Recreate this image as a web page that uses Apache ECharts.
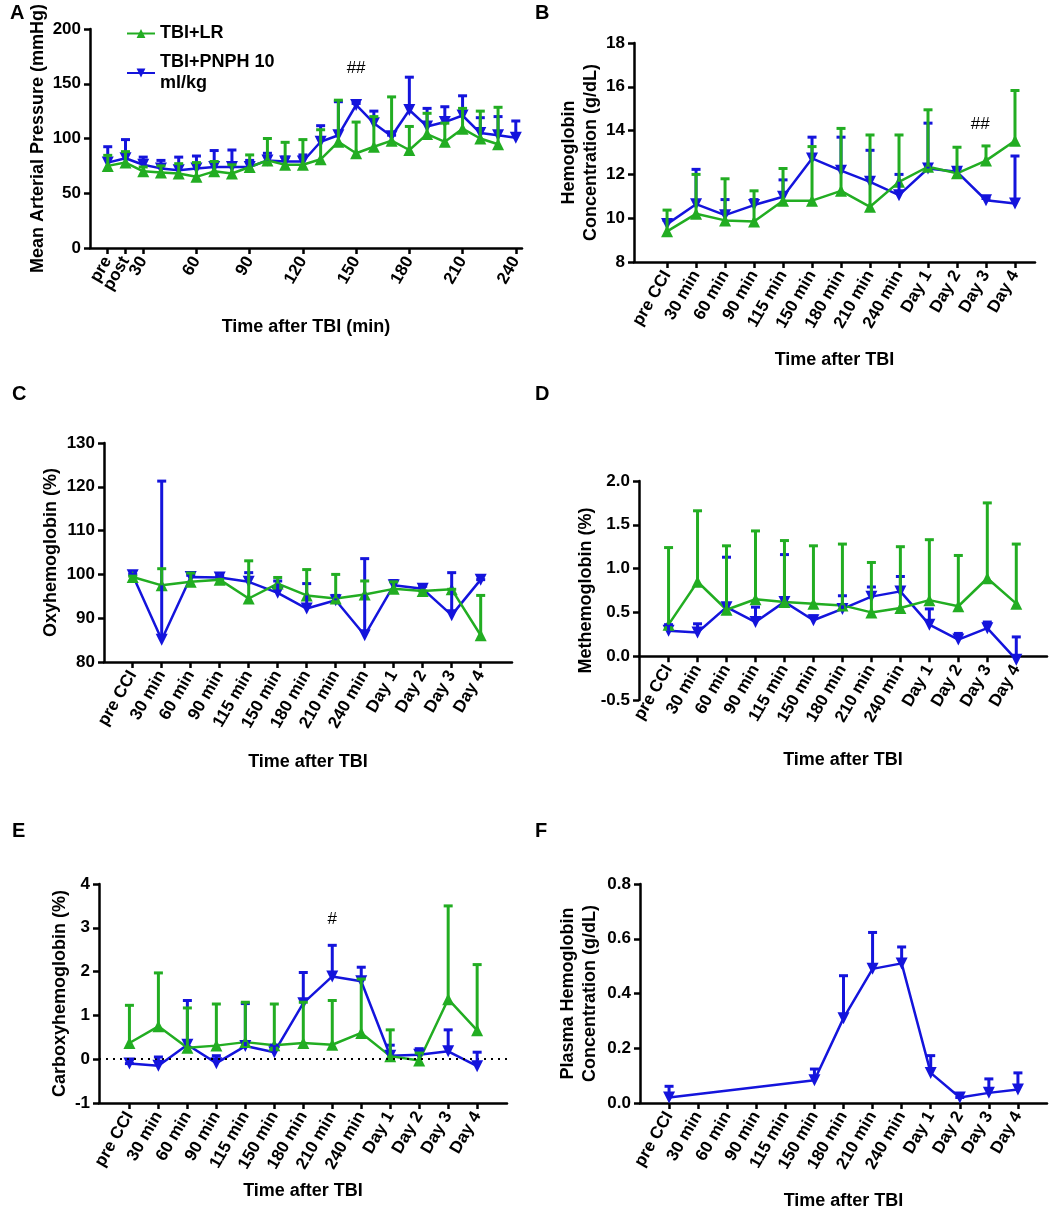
<!DOCTYPE html>
<html>
<head>
<meta charset="utf-8">
<title>TBI blood parameters</title>
<script src="https://cdn.jsdelivr.net/npm/echarts@6/dist/echarts.min.js"></script>
<style>
  html, body { margin: 0; padding: 0; background: #fff; }
  #chart { width: 1053px; height: 1210px; }
</style>
</head>
<body>
<div id="chart"></div>
<script>
// ---- data ----
var GREEN = '#22ad22';
var BLUE = '#1414dc';
var FONT = 'Liberation Sans, Arial, sans-serif';

var nameLR = 'TBI+LR';
var namePNPH = 'TBI+PNPH 10\nml/kg';

// panel A: minutes after TBI
var timeLR = [10, 20, 30, 40, 50, 60, 70, 80, 90, 100, 110, 120, 130, 140, 150, 160, 170, 180, 190, 200, 210, 220, 230];
var timePNPH = [10, 20, 30, 40, 50, 60, 70, 80, 90, 100, 110, 120, 130, 140, 150, 160, 170, 180, 190, 200, 210, 220, 230, 240];
var mapTicks = [10, 20, 30, 60, 90, 120, 150, 180, 210, 240];
var mapTickLabels = ['pre', 'post', '30', '60', '90', '120', '150', '180', '210', '240'];
var mapLR = [75, 78, 70, 69, 68, 65, 70, 68, 74, 80, 76, 76, 81, 97, 86.5, 92.5, 98, 89.5, 104, 97, 109, 100, 94.7];
var mapLRsd = [9.6, 10, 4, 6, 9, 13, 9, 8, 11, 20, 20.5, 23, 27, 38, 28.5, 27.5, 40, 21.5, 19, 17, 18.5, 25, 33.8];
var mapPNPH = [78, 82, 76, 72.7, 71, 72.7, 74, 74, 74, 80, 79, 79, 97, 103, 130.6, 114, 102, 126, 111, 115, 121, 105, 103, 100.7];
var mapPNPHsd = [14.5, 17, 7, 7.3, 12, 11.3, 15, 15.5, 6, 6.5, 4, 6, 14.7, 30.6, 1.4, 11, 1, 30, 16.5, 14, 18, 14, 17, 15.3];

// panels B-F: sampling points
var timePoints = ['pre CCI', '30 min', '60 min', '90 min', '115 min', '150 min', '180 min',
  '210 min', '240 min', 'Day 1', 'Day 2', 'Day 3', 'Day 4'];

var hbLR = [9.4, 10.2, 9.9, 9.85, 10.8, 10.8, 11.25, 10.52, 11.66, 12.35, 12.05, 12.63, 13.54];
var hbLRsd = [0.97, 1.8, 1.9, 1.4, 1.47, 2.47, 2.85, 3.28, 2.14, 2.6, 1.19, 0.67, 2.29];
var hbPNPH = [9.73, 10.64, 10.14, 10.6, 10.98, 12.73, 12.17, 11.66, 11.05, 12.27, 12.12, 10.82, 10.67];
var hbPNPHsd = [0.17, 1.59, 0.71, 0.25, 0.77, 0.97, 1.53, 1.44, 0.95, 2.07, 0.15, 0.08, 2.17];

var oxyLR = [99.4, 97.5, 98.3, 98.8, 94.5, 97.9, 95.2, 94.5, 95.4, 96.7, 96.2, 96.6, 86.1];
var oxyLRsd = [0.2, 3.8, 2.0, 0, 8.6, 1.4, 5.9, 5.5, 3.1, 1.6, 0, 0, 9.1];
var oxyPNPH = [99.8, 85.1, 99.4, 99.3, 98.3, 95.8, 92.2, 94.1, 86.1, 97.5, 96.7, 90.7, 98.8];
var oxyPNPHsd = [0.2, 36.2, 0.4, 0.3, 2.1, 2.7, 5.7, 1.1, 17.5, 1.1, 0.6, 9.7, 0];

var metLR = [0.36, 0.85, 0.53, 0.65, 0.62, 0.60, 0.58, 0.50, 0.55, 0.64, 0.57, 0.89, 0.60];
var metLRsd = [0.88, 0.81, 0.73, 0.78, 0.70, 0.66, 0.70, 0.57, 0.70, 0.69, 0.58, 0.86, 0.68];
var metPNPH = [0.29, 0.27, 0.56, 0.39, 0.62, 0.41, 0.54, 0.68, 0.74, 0.36, 0.19, 0.32, -0.04];
var metPNPHsd = [0.07, 0.10, 0.57, 0.17, 0.54, 0.05, 0.15, 0.11, 0.17, 0.18, 0.07, 0.07, 0.26];

var carbLR = [0.37, 0.75, 0.26, 0.31, 0.39, 0.32, 0.37, 0.33, 0.60, 0.07, -0.03, 1.37, 0.66];
var carbLRsd = [0.86, 1.22, 0.91, 0.95, 0.91, 0.94, 0.93, 1.01, 1.23, 0.60, 0.17, 2.13, 1.50];
var carbPNPH = [-0.10, -0.15, 0.33, -0.09, 0.30, 0.16, 1.28, 1.89, 1.78, 0.08, 0.10, 0.18, -0.16];
var carbPNPHsd = [0, 0.20, 1.01, 0.17, 0.97, 0.16, 0.70, 0.71, 0.32, 0.24, 0.14, 0.49, 0.32];

var plasmaPNPH = [0.02, null, null, null, null, 0.083, 0.31, 0.49, 0.51, 0.11, 0.02, 0.037, 0.049];
var plasmaPNPHsd = [0.041, null, null, null, null, 0.041, 0.155, 0.133, 0.06, 0.063, 0, 0.051, 0.061];

// ---- chart ----
var idx = timePoints.map(function (d, i) { return i; });

var grids = [], xAxes = [], yAxes = [], series = [];

var tickLabelStyle = { fontFamily: FONT, fontSize: 17, fontWeight: 'bold', color: '#000' };

function errorBars(k, xs, mean, sd, color) {
    var data = [];
    for (var i = 0; i < mean.length; i++) {
        if (mean[i] == null) continue;
        data.push([xs[i], mean[i], mean[i] + sd[i]]);
    }
    return {
        type: 'custom',
        xAxisIndex: k, yAxisIndex: k,
        z: 5,
        silent: true,
        data: data,
        encode: { x: 0, y: [1, 2] },
        renderItem: function (params, api) {
            var p0 = api.coord([api.value(0), api.value(1)]);
            var p1 = api.coord([api.value(0), api.value(2)]);
            var st = { stroke: color, lineWidth: 3 };
            return {
                type: 'group',
                children: [
                    { type: 'line', shape: { x1: p0[0], y1: p0[1], x2: p1[0], y2: p1[1] }, style: st },
                    { type: 'line', shape: { x1: p1[0] - 4.5, y1: p1[1], x2: p1[0] + 4.5, y2: p1[1] }, style: st }
                ]
            };
        }
    };
}

function lineSeries(k, name, xs, mean, color, down) {
    return {
        name: name,
        type: 'line',
        xAxisIndex: k, yAxisIndex: k,
        z: 3,
        data: mean.map(function (v, i) { return [xs[i], v == null ? '-' : v]; }),
        connectNulls: true,
        symbol: 'triangle',
        symbolSize: 12,
        symbolRotate: down ? 180 : 0,
        itemStyle: { color: color },
        lineStyle: { color: color, width: 2.5 },
        emphasis: { disabled: true }
    };
}

// significance marks, placed in data coordinates
function note(k, x, y, text) {
    return {
        type: 'custom',
        xAxisIndex: k, yAxisIndex: k,
        silent: true,
        z: 6,
        data: [[x, y]],
        renderItem: function (params, api) {
            var p = api.coord([api.value(0), api.value(1)]);
            return { type: 'text', x: p[0], y: p[1],
                     style: { text: text, fill: '#000', font: '17px ' + FONT, align: 'center', verticalAlign: 'middle' } };
        }
    };
}

function labelFormatter(ticks, labels) {
    return function (v) { return labels[ticks.indexOf(Math.round(v))]; };
}

function addPanel(p) {
    var k = grids.length;
    var labelTicks = p.labelTicks || p.ticks;
    grids.push({ left: p.left, top: p.top, width: p.width, height: 219, outerBoundsMode: 'none' });
    xAxes.push({
        type: 'value', gridIndex: k,
        min: p.xmin, max: p.xmax,
        offset: p.xOffset || 0,
        name: p.xName, nameLocation: 'middle', nameGap: p.xGap,
        nameTextStyle: { fontFamily: FONT, fontSize: 18, fontWeight: 'bold', color: '#000' },
        axisLine: { onZero: false, lineStyle: { color: '#000', width: 2.5 } },
        axisTick: { customValues: p.ticks, length: 6, lineStyle: { color: '#000', width: 2.5 } },
        axisLabel: Object.assign({
            customValues: labelTicks, rotate: 60, margin: 10, hideOverlap: false,
            showMinLabel: true, showMaxLabel: true,
            formatter: labelFormatter(p.ticks, p.tickLabels)
        }, tickLabelStyle),
        splitLine: { show: false }
    });
    yAxes.push({
        type: 'value', gridIndex: k,
        min: p.ymin, max: p.ymax, interval: p.yStep,
        name: p.yName, nameLocation: 'middle', nameGap: p.yGap,
        nameTextStyle: { fontFamily: FONT, fontSize: 18, fontWeight: 'bold', color: '#000', lineHeight: 22 },
        axisLine: { show: true, onZero: false, lineStyle: { color: '#000', width: 2.5 } },
        axisTick: { show: true, length: 6, lineStyle: { color: '#000', width: 2.5 } },
        axisLabel: Object.assign({
            margin: 9, showMinLabel: true, showMaxLabel: true,
            formatter: function (v) { return p.yDigits ? v.toFixed(p.yDigits) : String(v); }
        }, tickLabelStyle),
        splitLine: { show: false }
    });
    return k;
}

// A  ("post" sits so close to "pre" that it gets its own label-only axis below)
var kA = addPanel({ left: 90, top: 29, width: 432, xmin: 0, xmax: 243.5,
    ticks: mapTicks, tickLabels: mapTickLabels,
    labelTicks: mapTicks.filter(function (t, i) { return i !== 1; }),
    xName: 'Time after TBI (min)', xGap: 70,
    ymin: 0, ymax: 200, yStep: 50, yName: 'Mean Arterial Pressure (mmHg)', yGap: 40 });
series.push(lineSeries(kA, namePNPH, timePNPH, mapPNPH, BLUE, true));
series.push(lineSeries(kA, nameLR, timeLR, mapLR, GREEN, false));
series.push(errorBars(kA, timePNPH, mapPNPH, mapPNPHsd, BLUE));
series.push(errorBars(kA, timeLR, mapLR, mapLRsd, GREEN));
series.push(note(kA, 150, 164, '##'));

var common = { ticks: idx, tickLabels: timePoints, xName: 'Time after TBI' };
function panelCfg(extra) {
    var o = {};
    for (var a in common) o[a] = common[a];
    for (var b in extra) o[b] = extra[b];
    return o;
}

// B
var kB = addPanel(panelCfg({ left: 634, top: 43, width: 401, xmin: -1.14, xmax: 12.69, xGap: 89,
    ymin: 8, ymax: 18, yStep: 2, yName: 'Hemoglobin\nConcentration (g/dL)', yGap: 32 }));
series.push(lineSeries(kB, namePNPH, idx, hbPNPH, BLUE, true));
series.push(lineSeries(kB, nameLR, idx, hbLR, GREEN, false));
series.push(errorBars(kB, idx, hbPNPH, hbPNPHsd, BLUE));
series.push(errorBars(kB, idx, hbLR, hbLRsd, GREEN));
series.push(note(kB, 10.8, 14.3, '##'));

// C
var kC = addPanel(panelCfg({ left: 104, top: 443, width: 408, xmin: -0.99, xmax: 13.08, xGap: 91,
    ymin: 80, ymax: 130, yStep: 10, yName: 'Oxyhemoglobin (%)', yGap: 42 }));
series.push(lineSeries(kC, namePNPH, idx, oxyPNPH, BLUE, true));
series.push(lineSeries(kC, nameLR, idx, oxyLR, GREEN, false));
series.push(errorBars(kC, idx, oxyPNPH, oxyPNPHsd, BLUE));
series.push(errorBars(kC, idx, oxyLR, oxyLRsd, GREEN));

// D  (x axis crosses at y = 0: 0.5 of 2.5 units above the bottom of a 219px grid)
var kD = addPanel(panelCfg({ left: 639, top: 481, width: 408, xmin: -1.02, xmax: 13.06, xGap: 95,
    xOffset: -219 * 0.5 / 2.5,
    ymin: -0.5, ymax: 2, yStep: 0.5, yDigits: 1, yName: 'Methemoglobin (%)', yGap: 41 }));
series.push(lineSeries(kD, namePNPH, idx, metPNPH, BLUE, true));
series.push(lineSeries(kD, nameLR, idx, metLR, GREEN, false));
series.push(errorBars(kD, idx, metPNPH, metPNPHsd, BLUE));
series.push(errorBars(kD, idx, metLR, metLRsd, GREEN));

// E
var kE = addPanel(panelCfg({ left: 99, top: 884, width: 408, xmin: -1.05, xmax: 13.03, xGap: 79,
    ymin: -1, ymax: 4, yStep: 1, yName: 'Carboxyhemoglobin (%)', yGap: 27 }));
var eBlue = lineSeries(kE, namePNPH, idx, carbPNPH, BLUE, true);
eBlue.markLine = {
    silent: true, symbol: 'none', label: { show: false },
    lineStyle: { color: '#000', type: [2, 5], width: 2 },
    data: [{ yAxis: 0 }]
};
series.push(eBlue);
series.push(lineSeries(kE, nameLR, idx, carbLR, GREEN, false));
series.push(errorBars(kE, idx, carbPNPH, carbPNPHsd, BLUE));
series.push(errorBars(kE, idx, carbLR, carbLRsd, GREEN));
series.push(note(kE, 7, 3.19, '#'));

// F
var kF = addPanel(panelCfg({ left: 640, top: 884, width: 407, xmin: -1, xmax: 13, xGap: 89,
    ymin: 0, ymax: 0.8, yStep: 0.2, yDigits: 1, yName: 'Plasma Hemoglobin\nConcentration (g/dL)', yGap: 39 }));
series.push(lineSeries(kF, namePNPH, idx, plasmaPNPH, BLUE, true));
series.push(errorBars(kF, idx, plasmaPNPH, plasmaPNPHsd, BLUE));

// label-only companion axis for panel A
xAxes.push({
    type: 'value', gridIndex: kA, position: 'bottom', offset: 0,
    min: 0, max: 243.5,
    axisLine: { show: false }, axisTick: { show: false }, splitLine: { show: false },
    axisLabel: Object.assign({
        customValues: [mapTicks[1]], rotate: 60, margin: 10,
        showMinLabel: true, showMaxLabel: true,
        formatter: labelFormatter(mapTicks, mapTickLabels)
    }, tickLabelStyle)
});

var letters = [['A', 10, 3], ['B', 535, 3], ['C', 12, 384], ['D', 535, 384], ['E', 12, 821], ['F', 535, 821]];

var chart = echarts.init(document.getElementById('chart'));
chart.setOption({
    animation: false,
    backgroundColor: '#fff',
    grid: grids,
    xAxis: xAxes,
    yAxis: yAxes,
    legend: {
        orient: 'vertical', left: 121, top: 18,
        itemWidth: 28, itemHeight: 11, itemGap: 8,
        data: [nameLR, namePNPH],
        textStyle: { fontFamily: FONT, fontSize: 18, fontWeight: 'bold', color: '#000', lineHeight: 21 }
    },
    graphic: letters.map(function (l) {
        return { type: 'text', left: l[1], top: l[2],
                 style: { text: l[0], fontFamily: FONT, fontSize: 20, fontWeight: 'bold', fill: '#000' } };
    }),
    series: series
});
</script>
</body>
</html>
